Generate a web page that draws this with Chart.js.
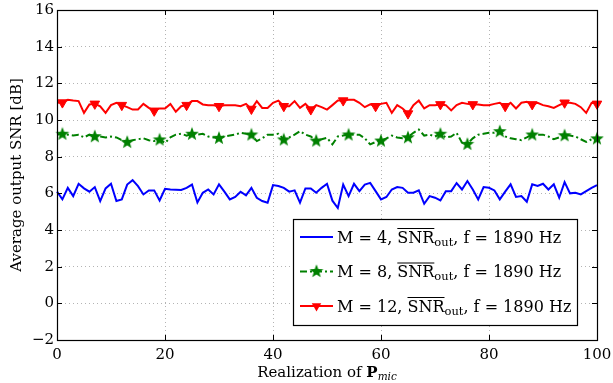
<!DOCTYPE html>
<html>
<head>
<meta charset="utf-8">
<script src="https://cdn.jsdelivr.net/npm/chart.js@4.4.1/dist/chart.umd.min.js"></script>
<style>
  html, body { margin: 0; padding: 0; background: #fff; }
</style>
</head>
<body>
<canvas id="snrChart" width="613" height="383"></canvas>
<script>
// realization index of P_mic
const realizations = Array.from({ length: 101 }, (_, i) => i);

// M = 4 (blue, solid)
const snrM4 = [
  6.09, 5.67, 6.30, 5.85, 6.52, 6.27, 6.09, 6.34, 5.58, 6.27,
  6.52, 5.58, 5.67, 6.48, 6.72, 6.39, 5.94, 6.16, 6.16, 5.61,
  6.25, 6.21, 6.20, 6.18, 6.30, 6.48, 5.50, 6.03, 6.21, 5.94,
  6.49, 6.09, 5.67, 5.80, 6.09, 5.89, 6.30, 5.76, 5.58, 5.49,
  6.45, 6.40, 6.30, 6.09, 6.16, 5.49, 6.27, 6.27, 6.03, 6.30,
  6.52, 5.60, 5.20, 6.48, 5.85, 6.52, 6.12, 6.48, 6.57, 6.12,
  5.67, 5.80, 6.21, 6.34, 6.30, 6.03, 6.03, 6.16, 5.43, 5.85,
  5.76, 5.61, 6.12, 6.12, 6.56, 6.21, 6.67, 6.21, 5.67, 6.34,
  6.30, 6.16, 5.67, 6.09, 6.49, 5.80, 5.85, 5.54, 6.49, 6.40,
  6.52, 6.21, 6.49, 5.76, 6.61, 6.00, 6.03, 5.94, 6.12, 6.30,
  6.45
];

// M = 8 (green, dash-dot, stars)
const snrM8 = [
  9.20, 9.25, 9.20, 9.15, 9.20, 9.05, 9.20, 9.12, 9.10, 9.05,
  9.10, 9.05, 8.90, 8.81, 8.90, 8.95, 9.00, 8.90, 8.85, 8.94,
  8.75, 9.05, 9.20, 9.25, 9.15, 9.25, 9.20, 9.25, 9.10, 9.05,
  9.03, 9.10, 9.15, 9.20, 9.30, 9.25, 9.21, 8.85, 9.00, 9.20,
  9.20, 9.25, 8.94, 9.05, 9.20, 9.39, 9.20, 9.10, 8.88, 8.95,
  9.03, 8.67, 9.10, 9.15, 9.21, 9.20, 9.20, 9.00, 8.67, 8.80,
  8.88, 9.00, 9.15, 9.05, 9.00, 9.06, 9.30, 9.48, 9.15, 9.20,
  9.10, 9.25, 9.05, 9.10, 9.30, 8.76, 8.70, 9.00, 9.20, 9.25,
  9.30, 9.30, 9.39, 9.10, 9.00, 8.95, 8.90, 9.05, 9.21, 9.20,
  9.20, 9.10, 8.95, 9.05, 9.17, 9.15, 9.10, 8.95, 8.80, 8.95,
  9.00
];

// M = 12 (red, solid, down triangles)
const snrM12 = [
  10.94, 10.95, 11.10, 11.06, 11.03, 10.39, 10.85, 10.88, 10.75, 10.39,
  10.81, 10.94, 10.81, 10.70, 10.57, 10.57, 10.88, 10.66, 10.50, 10.63,
  10.63, 10.88, 10.45, 10.75, 10.81, 11.03, 11.03, 10.85, 10.81, 10.81,
  10.75, 10.81, 10.81, 10.81, 10.75, 10.88, 10.60, 11.03, 10.66, 10.66,
  10.94, 11.06, 10.75, 10.75, 11.03, 10.66, 10.88, 10.57, 10.81, 10.70,
  10.57, 10.81, 11.06, 11.06, 11.10, 11.10, 10.94, 10.70, 10.85, 10.75,
  10.88, 10.94, 10.39, 10.81, 10.63, 10.35, 10.81, 11.06, 10.63, 10.81,
  10.81, 10.85, 10.81, 10.52, 10.81, 10.94, 10.88, 10.85, 10.85, 10.81,
  10.81, 10.88, 10.94, 10.75, 10.94, 10.63, 10.94, 10.99, 10.85, 10.94,
  10.81, 10.75, 10.66, 10.81, 10.94, 10.94, 10.88, 10.70, 10.39, 10.94,
  10.88
];

// where the markers sit (realization index)
const markersM8 = [1, 7, 13, 19, 25, 30, 36, 42, 48, 54, 60, 65, 71, 76, 82, 88, 94, 100];
const markersM12 = [1, 7, 12, 18, 24, 30, 36, 42, 47, 53, 59, 65, 71, 77, 83, 88, 94, 100];

const xTicks = [0, 20, 40, 60, 80, 100];
const yTicks = [-2, 0, 2, 4, 6, 8, 10, 12, 14, 16];
const seriesLabels = ['M = 4', 'M = 8', 'M = 12'];
const freqLabel = 'f = 1890 Hz';

const BLUE = '#0000ff';
const GREEN = '#008000';
const RED = '#ff0000';
const FONT = '"DejaVu Serif", "Liberation Serif", serif';
const FS = 15;    // axis text size
const FSS = 10.5; // subscript size
const LFS = 16;   // legend text size
const LFSS = 11.5;

// filled five point star (matlab pentagram)
const star = document.createElement('canvas');
star.width = 16; star.height = 16;
(function () {
  const c = star.getContext('2d');
  c.beginPath();
  for (let k = 0; k < 10; k++) {
    const r = k % 2 === 0 ? 7.2 : 3;
    const a = -Math.PI / 2 + k * Math.PI / 5;
    const px = 8 + r * Math.cos(a), py = 8.5 + r * Math.sin(a);
    if (k === 0) c.moveTo(px, py); else c.lineTo(px, py);
  }
  c.closePath();
  c.fillStyle = GREEN;
  c.fill();
})();

const toPoints = vals => realizations.map((x, i) => ({ x: x, y: vals[i] }));

function drawTriangleDown(ctx, x, y, r) {
  ctx.beginPath();
  ctx.moveTo(x, y + r);
  ctx.lineTo(x - r * 0.866, y - r * 0.5);
  ctx.lineTo(x + r * 0.866, y - r * 0.5);
  ctx.closePath();
  ctx.fillStyle = RED;
  ctx.fill();
}

function drawLegendText(ctx, x, y, mLabel) {
  ctx.fillStyle = '#000';
  ctx.textBaseline = 'alphabetic';
  ctx.textAlign = 'left';
  ctx.font = LFS + 'px ' + FONT;
  const head = mLabel + ', ';
  ctx.fillText(head, x, y);
  x += ctx.measureText(head).width;
  const snrW = ctx.measureText('SNR').width;
  ctx.fillText('SNR', x, y);
  ctx.fillRect(x, y - 14.5, snrW, 1);
  ctx.font = LFSS + 'px ' + FONT;
  const outW = ctx.measureText('out').width;
  ctx.fillText('out', x + snrW, y + 3);
  x += snrW + outW;
  ctx.font = LFS + 'px ' + FONT;
  ctx.fillText(', ' + freqLabel, x, y);
}

const framePlugin = {
  id: 'matlabFrame',
  afterDatasetsDraw(chart) {
    const { ctx, chartArea: a, scales } = chart;
    ctx.save();
    ctx.strokeStyle = '#000';
    ctx.lineWidth = 1;
    // inner tick marks on all four sides
    ctx.beginPath();
    xTicks.forEach(v => {
      const px = Math.round(scales.x.getPixelForValue(v)) + 0.5;
      ctx.moveTo(px, a.bottom); ctx.lineTo(px, a.bottom - 5);
      ctx.moveTo(px, a.top); ctx.lineTo(px, a.top + 5);
    });
    yTicks.forEach(v => {
      const py = Math.round(scales.y.getPixelForValue(v)) + 0.5;
      ctx.moveTo(a.left, py); ctx.lineTo(a.left + 5, py);
      ctx.moveTo(a.right, py); ctx.lineTo(a.right - 5, py);
    });
    ctx.stroke();
    ctx.lineWidth = 1.2;
    ctx.strokeRect(a.left + 0.5, a.top + 0.5, a.right - a.left, a.bottom - a.top);

    // legend box
    const L = 293, T = 219, R = 577, B = 325;
    ctx.fillStyle = '#fff';
    ctx.fillRect(L, T, R - L, B - T);
    ctx.lineWidth = 1.2;
    ctx.strokeStyle = '#000';
    ctx.strokeRect(L + 0.5, T + 0.5, R - L, B - T);
    const rows = [237, 271.5, 306];
    const x0 = 300, x1 = 333, xm = (x0 + x1) / 2;
    // M = 4
    ctx.lineWidth = 2;
    ctx.strokeStyle = BLUE;
    ctx.beginPath(); ctx.moveTo(x0, rows[0]); ctx.lineTo(x1, rows[0]); ctx.stroke();
    // M = 8
    ctx.strokeStyle = GREEN;
    ctx.setLineDash([7, 3, 2, 3]);
    ctx.beginPath(); ctx.moveTo(x0, rows[1]); ctx.lineTo(x1, rows[1]); ctx.stroke();
    ctx.setLineDash([]);
    ctx.drawImage(star, xm - 8, rows[1] - 8.5);
    // M = 12
    ctx.strokeStyle = RED;
    ctx.beginPath(); ctx.moveTo(x0, rows[2]); ctx.lineTo(x1, rows[2]); ctx.stroke();
    drawTriangleDown(ctx, xm, rows[2], 5.5);
    seriesLabels.forEach((lab, i) => drawLegendText(ctx, 337, rows[i] + 5.5, lab));

    // x axis title: Realization of P_mic
    ctx.fillStyle = '#000';
    ctx.textBaseline = 'alphabetic';
    ctx.font = FS + 'px ' + FONT;
    const t1 = 'Realization of ';
    const w1 = ctx.measureText(t1).width;
    ctx.font = 'bold ' + FS + 'px ' + FONT;
    const w2 = ctx.measureText('P').width;
    ctx.font = 'italic ' + FSS + 'px ' + FONT;
    const w3 = ctx.measureText('mic').width;
    let tx = (a.left + a.right) / 2 - (w1 + w2 + w3) / 2;
    const ty = 377;
    ctx.font = FS + 'px ' + FONT;
    ctx.fillText(t1, tx, ty); tx += w1;
    ctx.font = 'bold ' + FS + 'px ' + FONT;
    ctx.fillText('P', tx, ty); tx += w2;
    ctx.font = 'italic ' + FSS + 'px ' + FONT;
    ctx.fillText('mic', tx, ty + 3);
    ctx.restore();
  }
};

const gridOpts = { color: '#b4b4b4', lineWidth: 1, drawTicks: false };

new Chart(document.getElementById('snrChart'), {
  type: 'line',
  data: {
    datasets: [
      {
        label: seriesLabels[0],
        data: toPoints(snrM4),
        borderColor: BLUE,
        borderWidth: 2,
        pointRadius: 0,
        tension: 0,
        clip: false
      },
      {
        label: seriesLabels[1],
        data: toPoints(snrM8),
        borderColor: GREEN,
        backgroundColor: GREEN,
        borderWidth: 2,
        borderDash: [7, 3, 2, 3],
        pointStyle: c => markersM8.includes(c.dataIndex) ? star : 'circle',
        pointRadius: c => markersM8.includes(c.dataIndex) ? 6 : 0,
        tension: 0,
        clip: false
      },
      {
        label: seriesLabels[2],
        data: toPoints(snrM12),
        borderColor: RED,
        backgroundColor: RED,
        borderWidth: 2,
        pointStyle: 'triangle',
        pointRotation: 180,
        pointRadius: c => markersM12.includes(c.dataIndex) ? 5.5 : 0,
        pointBorderWidth: 1,
        tension: 0,
        clip: false
      }
    ]
  },
  options: {
    responsive: false,
    animation: false,
    devicePixelRatio: 1,
    layout: { padding: { left: 0, top: 10, right: 16, bottom: 0 } },
    plugins: { legend: { display: false }, tooltip: { enabled: false } },
    scales: {
      x: {
        type: 'linear',
        min: 0,
        max: 100,
        afterBuildTicks: s => { s.ticks = xTicks.map(v => ({ value: v })); },
        afterFit: s => { s.height = 43; s.paddingLeft = 0; s.paddingRight = 0; },
        grid: gridOpts,
        border: { display: false, dash: [1, 3] },
        ticks: {
          padding: 6,
          color: '#000',
          font: { family: FONT, size: FS },
          maxRotation: 0
        }
      },
      y: {
        min: -2,
        max: 16,
        afterBuildTicks: s => { s.ticks = yTicks.map(v => ({ value: v })); },
        afterFit: s => { s.width = 57; s.paddingTop = 0; s.paddingBottom = 0; },
        grid: gridOpts,
        border: { display: false, dash: [1, 3] },
        ticks: {
          padding: 3,
          color: '#000',
          font: { family: FONT, size: FS },
          callback: v => String(v).replace('-', '\u2212')
        },
        title: {
          display: true,
          text: 'Average output SNR [dB]',
          color: '#000',
          font: { family: FONT, size: FS },
          padding: { top: 8, bottom: 0 }
        }
      }
    }
  },
  plugins: [framePlugin]
});
</script>
</body>
</html>
